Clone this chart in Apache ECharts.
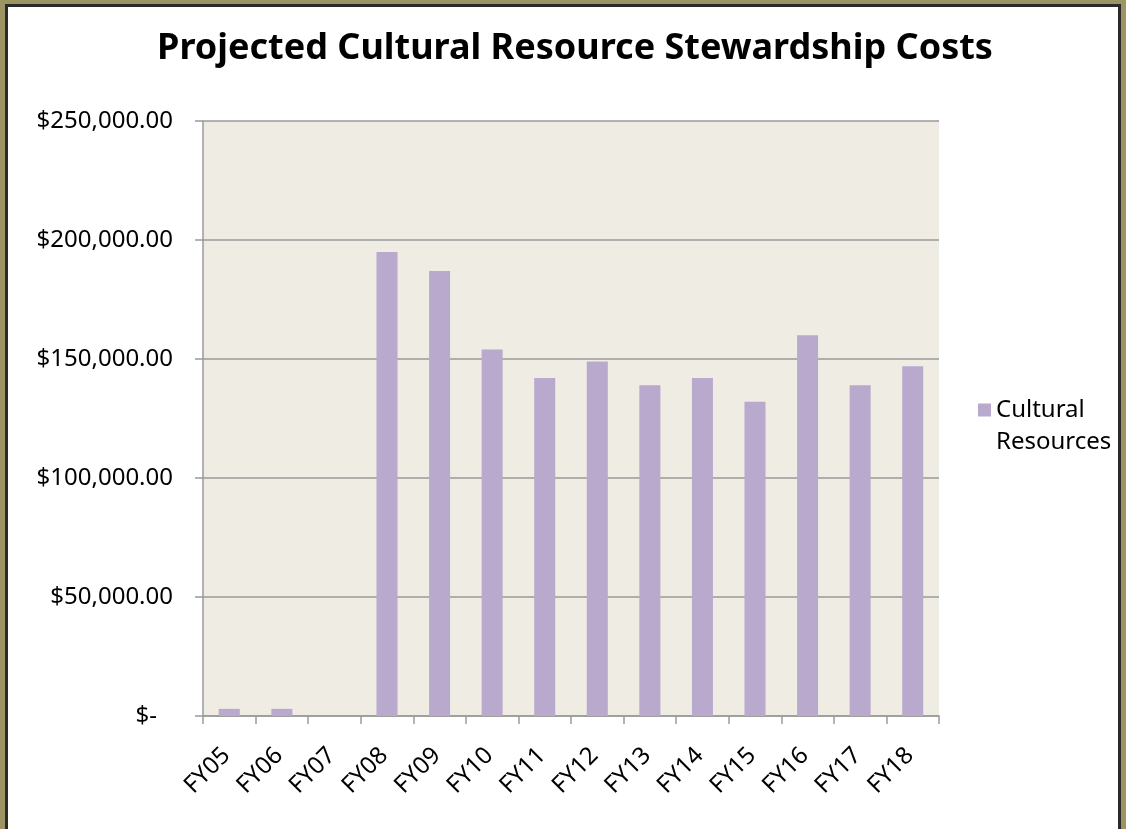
<!DOCTYPE html>
<html>
<head>
<meta charset="utf-8">
<script src="https://cdn.jsdelivr.net/npm/echarts@6/dist/echarts.min.js"></script>
<style>
  html, body { margin: 0; padding: 0; background: #9c9563; overflow: hidden; }
  #frame {
    position: absolute; left: 5px; top: 4px; width: 1110px; height: 840px;
    border: 3px solid #2b2b2b; border-bottom: none; background: #fff;
  }
  #chart { position: absolute; left: 0; top: 0; width: 1126px; height: 829px; }
</style>
</head>
<body>
<div id="frame"></div>
<div id="chart"></div>
<script>
// fiscal years on the x axis
const categories = ['FY05', 'FY06', 'FY07', 'FY08', 'FY09', 'FY10', 'FY11',
  'FY12', 'FY13', 'FY14', 'FY15', 'FY16', 'FY17', 'FY18']
// projected costs
const culturalResources = [3000, 3000, 0, 195000, 187000, 154000, 142000,
  149000, 139000, 142000, 132000, 160000, 139000, 147000]
const yTicks = [0, 50000, 100000, 150000, 200000, 250000]

const font = '"Noto Sans", "Open Sans", sans-serif'

function money(v) {
  // accounting style: zero shows as a dash, set in from the right
  if (v === 0) return '{z|$-}'
  return '$' + v.toLocaleString('en-US', { minimumFractionDigits: 2 })
}

const chart = echarts.init(document.getElementById('chart'))
chart.setOption({
  animation: false,
  textStyle: { fontFamily: font },
  title: {
    text: 'Projected Cultural Resource Stewardship Costs',
    left: 570,
    textAlign: 'center',
    top: 26,
    textStyle: { fontFamily: font, fontWeight: 'bold', fontSize: 36, color: '#000' }
  },
  legend: {
    orient: 'vertical',
    left: 978,
    top: 362,
    padding: 0,
    itemWidth: 13,
    itemHeight: 13,
    itemGap: 6,
    icon: 'rect',
    // blank first line keeps the marker level with "Cultural"
    formatter: () => ' \nCultural\nResources',
    textStyle: {
      fontFamily: font,
      fontSize: 24,
      color: '#000',
      lineHeight: 32
    },
    data: ['Cultural Resources']
  },
  grid: {
    left: 203,
    right: 187,
    top: 121,
    bottom: 113,
    show: true,
    backgroundColor: '#efece4',
    borderWidth: 0
  },
  xAxis: {
    type: 'category',
    data: categories,
    axisLine: { lineStyle: { color: '#9a9a9a', width: 1.5 } },
    axisTick: { show: true, length: 8, lineStyle: { color: '#9a9a9a', width: 1.5 } },
    axisLabel: {
      interval: 0,
      rotate: 45,
      margin: 33,
      padding: [0, 4, 0, 0],
      fontFamily: font,
      fontSize: 24,
      color: '#000'
    }
  },
  yAxis: {
    type: 'value',
    min: yTicks[0],
    max: yTicks[yTicks.length - 1],
    interval: yTicks[1] - yTicks[0],
    axisLine: { show: true, lineStyle: { color: '#9a9a9a', width: 1.5 } },
    axisTick: { show: true, length: 8, lineStyle: { color: '#9a9a9a', width: 1.5 } },
    splitLine: { lineStyle: { color: '#9a9a9a', width: 1.5 } },
    axisLabel: {
      margin: 30,
      fontFamily: font,
      fontSize: 24,
      color: '#000',
      formatter: money,
      rich: {
        z: { fontFamily: font, fontSize: 24, color: '#000', padding: [0, 16, 0, 0] }
      }
    }
  },
  series: [{
    name: 'Cultural Resources',
    type: 'bar',
    barCategoryGap: '60%',
    itemStyle: { color: '#b9a9cd' },
    data: culturalResources
  }]
})
</script>
</body>
</html>
